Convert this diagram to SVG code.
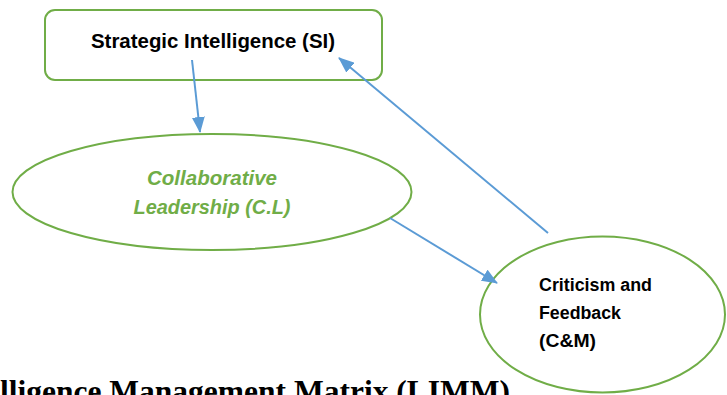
<svg xmlns="http://www.w3.org/2000/svg" width="727" height="395" viewBox="0 0 727 395">
<style>
.node{fill:#fff;stroke:#70AD47;stroke-width:2}
.lbl{font-family:"Liberation Sans",Arial,sans-serif;font-weight:bold;fill:#000}
.cl{font-style:italic;fill:#70AD47}
.conn{stroke:#5B9BD5;stroke-width:2;fill:none}
</style>
<defs>
<marker id="ah" viewBox="0 0 16 13" refX="15" refY="6.5" markerWidth="16" markerHeight="13" markerUnits="userSpaceOnUse" orient="auto">
<path d="M0,0 L16,6.5 L0,13 z" fill="#5B9BD5"/>
</marker>
</defs>
<rect width="727" height="395" fill="#fff"/>
<g id="si">
<rect class="node" x="45" y="10" width="337" height="70" rx="10"/>
<text class="lbl" x="213" y="48" font-size="20" text-anchor="middle" textLength="244" lengthAdjust="spacingAndGlyphs">Strategic Intelligence (SI)</text>
</g>
<g id="cl">
<ellipse class="node" cx="212" cy="192" rx="199.5" ry="58"/>
<text class="lbl cl" x="212" y="185" font-size="20" text-anchor="middle" textLength="130" lengthAdjust="spacingAndGlyphs">Collaborative</text>
<text class="lbl cl" x="212" y="214" font-size="20" text-anchor="middle" textLength="157" lengthAdjust="spacingAndGlyphs">Leadership (C.L)</text>
</g>
<g id="cm">
<ellipse class="node" cx="602.5" cy="314.5" rx="122.5" ry="78"/>
<text class="lbl" x="539" y="291" font-size="17.5" textLength="113" lengthAdjust="spacingAndGlyphs">Criticism and</text>
<text class="lbl" x="539" y="319" font-size="17.5" textLength="82" lengthAdjust="spacingAndGlyphs">Feedback</text>
<text class="lbl" x="539" y="347" font-size="17.5" textLength="57" lengthAdjust="spacingAndGlyphs">(C&amp;M)</text>
</g>
<g id="connectors">
<line class="conn" x1="192" y1="60" x2="200" y2="132" marker-end="url(#ah)"/>
<line class="conn" x1="548" y1="233" x2="339" y2="58" marker-end="url(#ah)"/>
<line class="conn" x1="390" y1="218" x2="497" y2="283" marker-end="url(#ah)"/>
</g>
<text x="0" y="402" font-family="'Liberation Serif','Times New Roman',serif" font-weight="bold" font-size="31.5" fill="#000">lligence Management Matrix (LIMM)</text>
</svg>
